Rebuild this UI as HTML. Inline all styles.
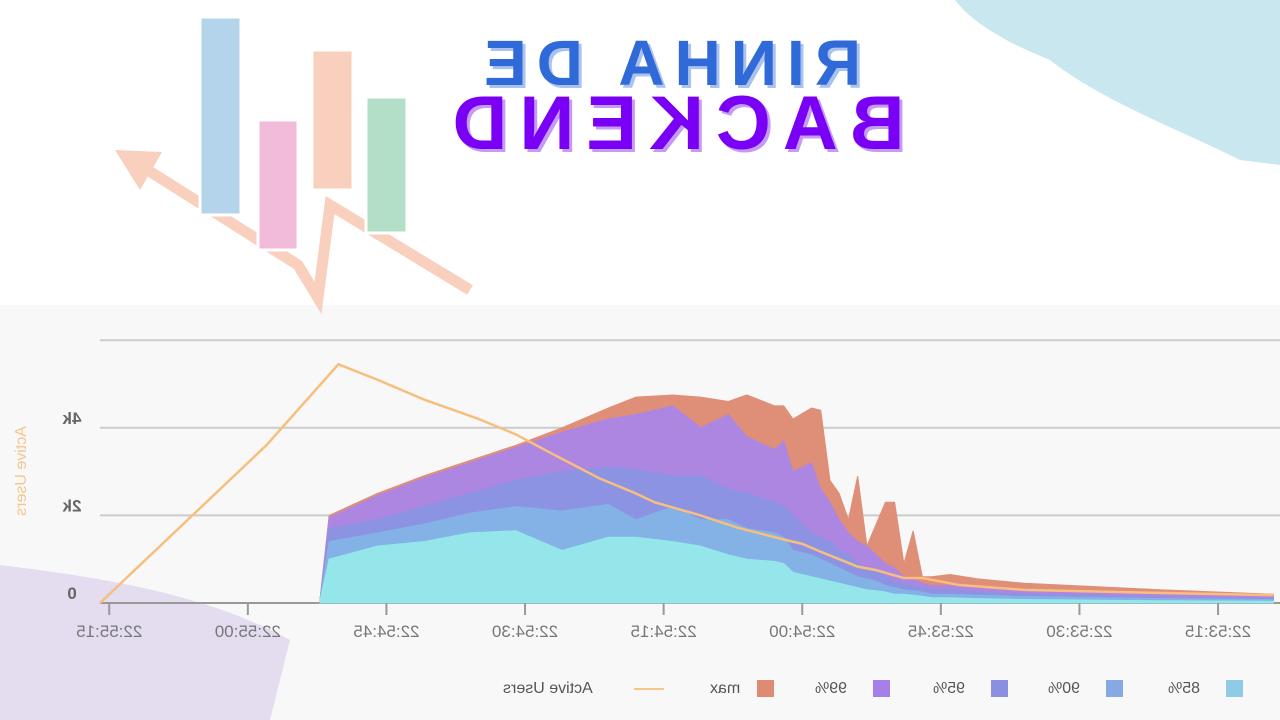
<!DOCTYPE html>
<html><head><meta charset="utf-8">
<style>
html,body{margin:0;padding:0;width:1280px;height:720px;overflow:hidden;background:#fff;font-family:"Liberation Sans",sans-serif;}
.m{position:absolute;transform:scaleX(-1);white-space:nowrap;}
</style></head>
<body>
<div style="position:absolute;left:0;top:0;width:1280px;height:305px;background:#fff;"></div>
<svg width="1280" height="720" style="position:absolute;left:0;top:0">
  <rect x="0" y="305" width="1280" height="415" fill="#f8f8f8"/>
  <path d="M955 0 L1280 0 L1280 165 L1240 160 C1180 130 1100 100 1050 60 C1000 40 970 20 955 0 Z" fill="#c9e7ee"/>
  <path d="M0 565 C80 575 200 590 290 640 L270 720 L0 720 Z" fill="#e4dcef"/>
  <polyline points="470,290 330,205 318,298 298,265 135,162" fill="none" stroke="#f9cfbd" stroke-width="11" stroke-linejoin="miter"/>
  <polygon points="115,150 162,152 140,190" fill="#f9cfbd"/>
  <rect x="200" y="17" width="41" height="198" fill="#b3d4ea" stroke="#fff" stroke-width="3"/>
  <rect x="258" y="120" width="40" height="130" fill="#f1bbd9" stroke="#fff" stroke-width="3"/>
  <rect x="312" y="50" width="41" height="140" fill="#f9cfbd" stroke="#fff" stroke-width="3"/>
  <rect x="366" y="97" width="41" height="136" fill="#b3dfc8" stroke="#fff" stroke-width="3"/>
</svg>
<div class="m" style="left:470px;top:26px;width:395px;text-align:center;font-size:64px;font-weight:bold;color:#2f6ad8;letter-spacing:10px;text-shadow:-3px 3px 0 #aac3ee;">RINHA DE</div>
<div class="m" style="left:430px;top:80px;width:485px;text-align:center;font-size:76px;font-weight:bold;color:#7a00f5;letter-spacing:12px;text-shadow:-3px 3px 0 #c59cf3;">BACKEND</div>

<svg id="chart" width="1280" height="720" style="position:absolute;left:0;top:0"></svg>

<div class="m" style="left:-33px;top:462px;width:110px;text-align:center;font-size:16px;color:#f7c48c;transform:rotate(-90deg) scaleX(-1);">Active Users</div>

<div>
  <div style="position:absolute;left:1226px;top:680px;width:17px;height:17px;background:#8fcbe6"></div>
  <div class="m" style="left:1168px;top:680px;font-size:16px;color:#555">85%</div>
  <div style="position:absolute;left:1106px;top:680px;width:17px;height:17px;background:#86a9e4"></div>
  <div class="m" style="left:1048px;top:680px;font-size:16px;color:#555">90%</div>
  <div style="position:absolute;left:991px;top:680px;width:17px;height:17px;background:#8b8fe0"></div>
  <div class="m" style="left:933px;top:680px;font-size:16px;color:#555">95%</div>
  <div style="position:absolute;left:873px;top:680px;width:17px;height:17px;background:#a680e8"></div>
  <div class="m" style="left:815px;top:680px;font-size:16px;color:#555">99%</div>
  <div style="position:absolute;left:757px;top:680px;width:17px;height:17px;background:#df8a72"></div>
  <div class="m" style="left:710px;top:680px;font-size:16px;color:#555">max</div>
  <div style="position:absolute;left:634px;top:688px;width:30px;height:2px;background:#f7c48c"></div>
  <div class="m" style="left:503px;top:680px;font-size:16px;color:#555">Active Users</div>
</div>

<script>
// time in seconds from left edge of plot, values in thousands
const userTimes = [0,3,10,18,25.8,27,30,35,41,45,49,54,58,60,65,69,74,76,78,80,82,84,87,89,93,100,110,127];
const userValues = [0,0.6,2.0,3.6,5.45,5.35,5.1,4.65,4.2,3.85,3.4,2.85,2.5,2.3,2.0,1.72,1.45,1.35,1.17,1.0,0.83,0.75,0.57,0.57,0.41,0.3,0.25,0.18];
const pctTimes = [23.8,24.8,30,35,40,45,50,55,58,62,65,68,70,73,74,75,77,78,79,80,81,82,83,84,85,86,87,88,89,90,92,95,100,110,115,127];
const maxValues = [0.05,2.0,2.5,2.9,3.25,3.6,4.0,4.45,4.7,4.75,4.7,4.6,4.75,4.5,4.5,4.2,4.45,4.4,2.8,2.5,1.9,2.9,1.3,1.8,2.3,2.3,0.9,1.65,0.6,0.6,0.65,0.55,0.45,0.35,0.3,0.2];
const p99Values = [0.05,1.95,2.45,2.85,3.2,3.55,3.9,4.2,4.3,4.5,4.0,4.3,3.8,3.5,3.7,3.0,3.2,2.6,2.3,1.9,1.6,1.4,1.3,1.1,0.9,0.8,0.6,0.55,0.45,0.4,0.4,0.35,0.3,0.25,0.2,0.15];
const p95Values = [0.05,1.7,1.9,2.2,2.5,2.8,3.0,3.1,3.05,2.9,2.9,2.6,2.5,2.3,2.2,2.0,1.6,1.5,1.4,1.2,1.1,0.9,0.8,0.7,0.6,0.5,0.45,0.4,0.35,0.3,0.3,0.25,0.2,0.15,0.12,0.1];
const p90Values = [0.05,1.4,1.6,1.8,2.05,2.2,2.1,2.25,1.9,2.2,1.9,1.9,1.7,1.6,1.5,1.2,1.1,1.0,0.9,0.8,0.7,0.6,0.55,0.5,0.4,0.35,0.3,0.28,0.25,0.2,0.2,0.18,0.15,0.12,0.1,0.08];
const p85Values = [0.05,1.0,1.3,1.4,1.6,1.65,1.2,1.5,1.5,1.4,1.3,1.1,1.0,0.95,0.9,0.7,0.6,0.55,0.5,0.45,0.4,0.35,0.3,0.28,0.25,0.2,0.2,0.18,0.15,0.12,0.12,0.1,0.08,0.06,0.05,0.04];
const yTicks = [0,2,4,6];
const yTickLabels = ["0","2k","4k",""];
const xTickTimes = [1,16,31,46,61,76,91,106,121];
const xTickLabels = ["22:55:15","22:55:00","22:54:45","22:54:30","22:54:15","22:54:00","22:53:45","22:53:30","22:53:15"];

const svg = document.getElementById('chart');
const NS = 'http://www.w3.org/2000/svg';
const X = t => 100 + t * 9.24;
const Y = v => 603 - v * 43.8;

yTicks.forEach((v,i) => {
  const l = document.createElementNS(NS,'line');
  l.setAttribute('x1',100);l.setAttribute('x2',1280);l.setAttribute('y1',Y(v));l.setAttribute('y2',Y(v));
  l.setAttribute('stroke', v===0 ? '#999' : '#ccc');l.setAttribute('stroke-width',2);
  
  
  svg.appendChild(l);
  if (yTickLabels[i]) {
    const t = document.createElementNS(NS,'text');
    t.textContent = yTickLabels[i];
    t.setAttribute('x', -72);t.setAttribute('y', Y(v) - 4);
    t.setAttribute('transform','scale(-1,1)');
    t.setAttribute('text-anchor','middle');
    t.setAttribute('font-size',17);t.setAttribute('font-weight','bold');t.setAttribute('fill','#666');
    t.setAttribute('font-family','Liberation Sans, sans-serif');
    
    
    svg.appendChild(t);
  }
});

function area(vals, color, name) {
  let d = 'M' + X(pctTimes[0]) + ' ' + Y(0);
  vals.forEach((v,i) => { d += ' L' + X(pctTimes[i]) + ' ' + Y(v); });
  d += ' L' + X(pctTimes[pctTimes.length-1]) + ' ' + Y(0) + ' Z';
  const p = document.createElementNS(NS,'path');
  p.setAttribute('d', d); p.setAttribute('fill', color); p.setAttribute('stroke', color);
  
  
  svg.appendChild(p);
}
area(maxValues, '#df8f78', 'area-max');
area(p99Values, '#ad86e2', 'area-p99');
area(p95Values, '#8b93e2', 'area-p95');
area(p90Values, '#84b1e6', 'area-p90');
area(p85Values, '#95e6ea', 'area-p85');

let ud = '';
userTimes.forEach((t,i) => { ud += (i ? ' L' : 'M') + X(t) + ' ' + Y(userValues[i]); });
const ul = document.createElementNS(NS,'path');
ul.setAttribute('d', ud); ul.setAttribute('fill','none'); ul.setAttribute('stroke','#f7bf7d'); ul.setAttribute('stroke-width',2.5);


svg.appendChild(ul);

xTickTimes.forEach((t,i) => {
  const l = document.createElementNS(NS,'line');
  l.setAttribute('x1',X(t));l.setAttribute('x2',X(t));l.setAttribute('y1',603);l.setAttribute('y2',615);
  l.setAttribute('stroke','#999');l.setAttribute('stroke-width',2);
  
  
  svg.appendChild(l);
  const tx = document.createElementNS(NS,'text');
  tx.textContent = xTickLabels[i];
  tx.setAttribute('x', -X(t)); tx.setAttribute('y', 637);
  tx.setAttribute('transform','scale(-1,1)');
  tx.setAttribute('text-anchor','middle');
  tx.setAttribute('font-size',17);tx.setAttribute('fill','#777');
  tx.setAttribute('font-family','Liberation Sans, sans-serif');
  
  
  svg.appendChild(tx);
});
</script>
</body></html>
